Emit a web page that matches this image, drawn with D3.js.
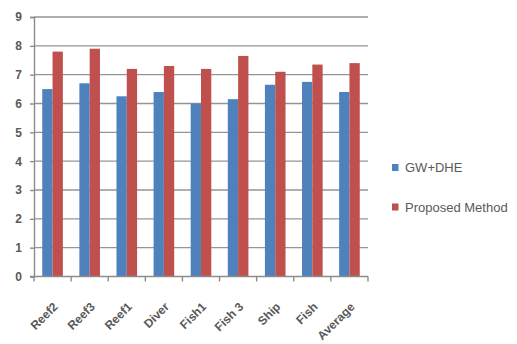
<!DOCTYPE html>
<html>
<head>
<meta charset="utf-8">
<script src="https://cdn.jsdelivr.net/npm/d3@7"></script>
<style>
  html, body { margin: 0; padding: 0; background: #fff; }
  svg { display: block; }
  text { font-family: "Liberation Sans", Arial, sans-serif; }
</style>
</head>
<body>
<svg id="chart" width="517" height="344"></svg>
<script>
// Image categories along the x axis
const categories = ["Reef2", "Reef3", "Reef1", "Diver", "Fish1", "Fish 3", "Ship", "Fish", "Average"];
// Series names and values
const seriesNames = ["GW+DHE", "Proposed Method"];
const gwDhe = [6.5, 6.7, 6.25, 6.4, 6.0, 6.15, 6.65, 6.75, 6.4];
const proposed = [7.8, 7.9, 7.2, 7.3, 7.2, 7.65, 7.1, 7.35, 7.4];
const yTicks = [0, 1, 2, 3, 4, 5, 6, 7, 8, 9];
const colors = ["#4f81bd", "#c0504d"];

const svg = d3.select("#chart");
const plotLeft = 34, plotRight = 368, plotTop = 17, plotBottom = 276.5;

const x = d3.scaleBand().domain(categories).range([plotLeft, plotRight]).paddingInner(0).paddingOuter(0);
const y = d3.scaleLinear().domain([0, 9]).range([plotBottom, plotTop]);
// Two bars per category with a 160% gap (clustered columns)
const barW = x.bandwidth() / (seriesNames.length + 1.6);
const xs = d3.scaleBand().domain(seriesNames).range([0, barW * 2]);

// Horizontal gridlines
svg.append("g")
  .selectAll("line")
  .data(yTicks.filter(d => d > 0))
  .join("line")
  .attr("x1", plotLeft).attr("x2", plotRight)
  .attr("y1", d => y(d)).attr("y2", d => y(d))
  .attr("stroke", "#959595").attr("stroke-width", 1.4);

// Bars
const rows = categories.map((c, i) => ({ cat: c, vals: [gwDhe[i], proposed[i]] }));
const groups = svg.append("g").selectAll("g")
  .data(rows).join("g")
  .attr("transform", d => `translate(${x(d.cat) + (x.bandwidth() - barW * 2) / 2},0)`);
groups.selectAll("rect")
  .data(d => d.vals.map((v, k) => ({ name: seriesNames[k], v, k })))
  .join("rect")
  .attr("x", d => xs(d.name))
  .attr("width", xs.bandwidth())
  .attr("y", d => y(d.v))
  .attr("height", d => y(0) - y(d.v))
  .attr("fill", d => colors[d.k]);

// Y axis
const yAxis = d3.axisLeft(y).tickValues(yTicks).tickSize(4).tickPadding(8).tickFormat(d3.format("d"));
const gy = svg.append("g").attr("transform", `translate(${plotLeft},0)`).call(yAxis);
gy.select(".domain").attr("stroke", "#8c8c8c").attr("stroke-width", 1.4);
gy.selectAll(".tick line").attr("stroke", "#8c8c8c").attr("stroke-width", 1.4);
gy.selectAll(".tick text")
  .attr("font-size", 12).attr("font-weight", "bold").attr("fill", "#595959")
  .style("font-family", "'Liberation Sans', Arial, sans-serif");

// X axis with tick marks between categories
svg.append("line")
  .attr("x1", plotLeft - 4).attr("x2", plotRight)
  .attr("y1", plotBottom).attr("y2", plotBottom)
  .attr("stroke", "#8c8c8c").attr("stroke-width", 1.4);
const edges = categories.map(c => x(c)).concat([plotRight]);
svg.append("g").selectAll("line")
  .data(edges).join("line")
  .attr("x1", d => d).attr("x2", d => d)
  .attr("y1", plotBottom).attr("y2", plotBottom + 5)
  .attr("stroke", "#8c8c8c").attr("stroke-width", 1.4);

// Rotated category labels
svg.append("g").selectAll("text")
  .data(categories).join("text")
  .attr("transform", d => `translate(${x(d) + x.bandwidth() / 2 + 6},${plotBottom + 31}) rotate(-45)`)
  .attr("text-anchor", "end")
  .attr("font-size", 12).attr("font-weight", "bold").attr("fill", "#595959")
  .text(d => d);

// Legend
const legend = svg.append("g").selectAll("g")
  .data(seriesNames).join("g")
  .attr("transform", (d, i) => `translate(392,${167.5 + i * 39.5})`);
legend.append("rect")
  .attr("x", 0).attr("y", -3.5).attr("width", 6.5).attr("height", 7)
  .attr("fill", (d, i) => colors[i]);
legend.append("text")
  .attr("x", 13).attr("y", 4.5)
  .attr("font-size", 13).attr("fill", "#595959")
  .text(d => d);
</script>
</body>
</html>
